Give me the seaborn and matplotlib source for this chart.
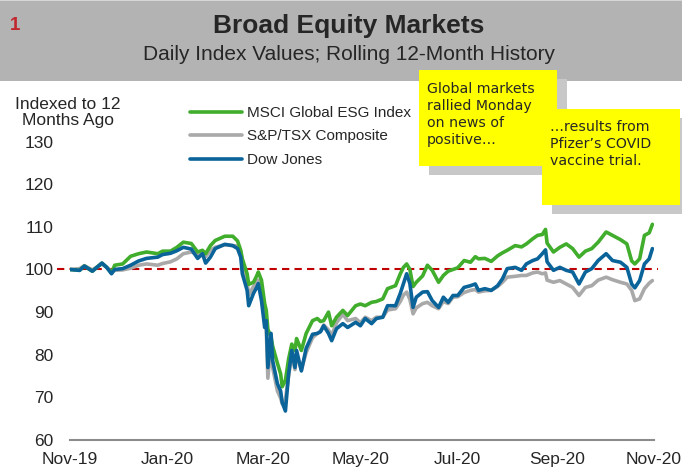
import matplotlib
matplotlib.use("Agg")
import matplotlib.pyplot as plt
from matplotlib.patches import Rectangle
import pandas as pd
import seaborn as sns

# Data (days since 10-Nov-2019, index level)

days = [0, 6, 9, 14, 20, 23, 26, 28, 33, 38,
        43, 48, 55, 58, 63, 67, 71, 76, 80, 83,
        85, 88, 91, 97, 102, 105, 107, 108, 111, 112,
        115, 117, 118, 120, 122, 123, 124, 126, 127, 130,
        132, 133, 135, 137, 139, 141, 142, 145, 148, 152,
        155, 157, 159, 162, 164, 167, 171, 174, 179, 182,
        185, 189, 192, 196, 199, 204, 207, 209, 211, 213,
        215, 217, 221, 224, 227, 231, 234, 237, 240, 243,
        247, 251, 254, 256, 260, 264, 268, 271, 274, 279,
        283, 286, 290, 293, 296, 298, 299, 303, 307, 311,
        315, 319, 323, 327, 331, 336, 340, 345, 349, 352,
        354, 357, 360, 363, 365]

msci_esg = [100.0, 99.8, 100.8, 99.6, 101.5, 100.5, 99.2, 101.0, 101.3, 103.1,
            103.7, 104.1, 103.7, 104.3, 104.3, 105.2, 106.4, 106.1, 104.1, 104.5,
            103.7, 105.6, 106.8, 107.8, 107.8, 106.7, 104.5, 102.5, 99.0, 96.5,
            97.0, 98.5, 99.4, 97.5, 92.0, 90.4, 86.0, 84.1, 82.0, 78.0,
            75.5, 72.5, 74.0, 79.0, 82.5, 81.0, 83.8, 81.0, 85.0, 88.0,
            88.5, 87.8, 88.0, 90.0, 86.8, 88.8, 90.4, 89.2, 91.5, 91.9,
            91.5, 92.3, 92.5, 93.1, 95.5, 96.2, 99.0, 100.5, 101.3, 100.0,
            96.0, 97.0, 98.5, 101.0, 99.8, 97.0, 98.6, 99.6, 100.0, 100.4,
            102.1, 101.7, 103.0, 102.5, 102.6, 101.9, 103.2, 103.9, 104.5, 105.6,
            105.3, 106.0, 107.2, 108.0, 108.2, 109.4, 106.2, 104.1, 105.2, 106.0,
            104.9, 102.9, 104.3, 104.9, 106.4, 108.8, 108.0, 107.0, 106.0, 102.0,
            101.3, 102.5, 108.0, 108.6, 110.6]

tsx = [100.0, 100.2, 100.9, 99.9, 101.3, 100.5, 99.5, 99.8, 99.9, 100.3,
       101.0, 101.3, 101.0, 101.4, 101.8, 102.5, 103.7, 104.1, 103.5, 103.7,
       103.0, 104.5, 105.2, 105.8, 105.6, 105.5, 104.0, 101.0, 97.0, 94.0,
       96.0, 97.0, 97.5, 95.0, 88.5, 86.0, 74.5, 83.0, 77.0, 71.5,
       69.8, 68.5, 69.5, 75.0, 80.0, 76.5, 80.0, 76.5, 80.5, 84.0,
       85.0, 85.5, 87.0, 85.8, 84.5, 87.5, 89.5, 88.0, 88.5, 87.5,
       88.8, 88.0, 88.8, 88.8, 90.5, 90.8, 92.5, 94.0, 94.7, 93.0,
       89.6, 91.0, 92.0, 92.3, 91.5, 90.8, 92.5, 92.0, 93.5, 93.6,
       94.6, 95.1, 95.3, 94.7, 95.0, 95.1, 96.0, 97.0, 98.2, 98.4,
       98.6, 98.6, 99.2, 99.4, 99.0, 99.2, 97.5, 97.0, 97.4, 96.6,
       95.8, 93.9, 95.8, 96.2, 97.5, 98.2, 97.6, 97.0, 96.6, 95.1,
       92.7, 93.1, 95.5, 96.8, 97.4]

dow = [100.0, 99.8, 100.8, 99.6, 101.5, 100.5, 99.0, 100.0, 100.2, 101.0,
       102.0, 102.6, 102.9, 103.5, 103.8, 104.4, 105.2, 104.8, 102.6, 103.7,
       101.5, 102.9, 104.9, 105.9, 105.6, 104.9, 102.9, 99.0, 95.1, 91.5,
       94.4, 95.8, 96.7, 92.7, 86.4, 88.0, 77.0, 85.0, 78.6, 73.2,
       71.5, 68.8, 66.8, 75.5, 81.0, 77.0, 81.0, 76.2, 81.5, 84.8,
       85.0, 85.4, 86.8, 85.0, 83.3, 86.1, 87.3, 86.4, 87.6, 86.8,
       88.5, 87.3, 88.5, 88.8, 91.5, 91.5, 94.4, 96.7, 99.0, 96.7,
       91.1, 93.5, 94.7, 94.8, 92.7, 91.1, 93.5, 92.3, 93.9, 93.9,
       95.8, 96.2, 96.6, 95.1, 95.5, 95.1, 96.2, 97.8, 100.2, 100.5,
       99.8, 101.3, 102.1, 102.5, 103.7, 104.6, 101.8, 99.8, 100.5, 99.8,
       99.4, 96.6, 99.4, 100.2, 102.1, 103.7, 102.1, 101.7, 100.5, 96.6,
       95.7, 97.4, 101.3, 102.5, 104.9]

series_names = ["MSCI Global ESG Index", "S&P/TSX Composite", "Dow Jones"]
tick_dates = ["2019-11-10", "2020-01-10", "2020-03-10", "2020-05-10",
              "2020-07-10", "2020-09-10", "2020-11-10"]

start = pd.Timestamp("2019-11-10")
df = pd.DataFrame({"date": start + pd.to_timedelta(days, unit="D"),
                   series_names[0]: msci_esg,
                   series_names[1]: tsx,
                   series_names[2]: dow})

colors = {series_names[0]: "#41AD2C", series_names[1]: "#A9A9A9", series_names[2]: "#0A6399"}

sns.set_style("white")
plt.rcParams["font.family"] = ["Liberation Sans", "DejaVu Sans"]

W, H = 682, 473
fig = plt.figure(figsize=(W / 100, H / 100), dpi=100)


def fx(x):
    return x / W


def fy(y):
    return 1 - y / H


# grey title banner
fig.patches.append(Rectangle((0, fy(81)), 1, 81 / H, transform=fig.transFigure,
                             facecolor="#B3B3B3", edgecolor="none", zorder=0))
fig.patches.append(Rectangle((0, fy(1.5)), 1, 1.5 / H, transform=fig.transFigure,
                             facecolor="#D6D6D6", edgecolor="none", zorder=0))
fig.text(fx(15), fy(26), "1", color="#C0282D", fontsize=13.5, fontweight="bold",
         ha="center", va="center")
fig.text(fx(349), fy(26), "Broad Equity Markets", fontsize=19, fontweight="bold",
         ha="center", va="center")
fig.text(fx(349), fy(55), "Daily Index Values; Rolling 12-Month History", fontsize=15,
         ha="center", va="center")

ax = fig.add_axes([fx(70), fy(440), (654 - 70) / W, (440 - 141.6) / H])

# draw order: grey, green, blue on top
for name in [series_names[1], series_names[0], series_names[2]]:
    sns.lineplot(data=df, x="date", y=name, ax=ax, color=colors[name],
                 linewidth=2.6, label=name)

ax.axhline(100, xmin=-0.022, xmax=1.007, color="#C00000", linewidth=1.5,
           linestyle=(0, (3.5, 2.5)), clip_on=False, zorder=1)

ax.set_xlim(pd.Timestamp(tick_dates[0]), pd.Timestamp(tick_dates[-1]))
ax.set_ylim(60, 130)
ax.set_xticks(pd.to_datetime(tick_dates))
ax.set_xticklabels([pd.Timestamp(d).strftime("%b-%y") for d in tick_dates])
ax.set_yticks(range(60, 131, 10))
ax.set_xlabel("")
ax.set_ylabel("")

for s in ["top", "right", "left"]:
    ax.spines[s].set_visible(False)
ax.spines["bottom"].set_color("#8C8C8C")
ax.spines["bottom"].set_linewidth(1.5)
ax.tick_params(axis="x", direction="out", length=4, width=1.5, color="#8C8C8C",
               labelsize=12.5, pad=4.5)
ax.tick_params(axis="y", length=0, labelsize=12.5, pad=12)
ax.patch.set_alpha(0)

fig.text(fx(68), fy(112.5), "Indexed to 12\nMonths Ago", fontsize=12.5,
         ha="center", va="center", multialignment="center", linespacing=1.15)

handles, labels = ax.get_legend_handles_labels()
order = [labels.index(n) for n in series_names]
ax.legend([handles[i] for i in order], [labels[i] for i in order],
          loc="upper left", bbox_to_anchor=(fx(190), fy(106)), bbox_transform=fig.transFigure,
          frameon=False, fontsize=11, handlelength=3.4, handletextpad=0.35,
          labelspacing=0.62, borderpad=0, borderaxespad=0)

# yellow call-out notes with drop shadows
notes = [(419, 70, "Global markets\nrallied Monday\non news of\npositive\u2026"),
         (542, 109, "\u2026results from\nPfizer\u2019s COVID\nvaccine trial.")]
for x0, y0, txt in notes:
    fig.patches.append(Rectangle((fx(x0 + 10), fy(y0 + 9 + 96)), 138 / W, 96 / H,
                                 transform=fig.transFigure, facecolor="#C8C8C8",
                                 edgecolor="none", zorder=5))
    fig.patches.append(Rectangle((fx(x0), fy(y0 + 96)), 138 / W, 96 / H,
                                 transform=fig.transFigure, facecolor="#FFFF00",
                                 edgecolor="none", zorder=6))
fig.text(fx(427), fy(114.5), notes[0][2], fontsize=10.2, family="DejaVu Sans",
         ha="left", va="center", linespacing=1.3, zorder=7)
fig.text(fx(550), fy(144), notes[1][2], fontsize=10.2, family="DejaVu Sans",
         ha="left", va="center", linespacing=1.3, zorder=7)

plt.savefig("out.png", dpi=100)
